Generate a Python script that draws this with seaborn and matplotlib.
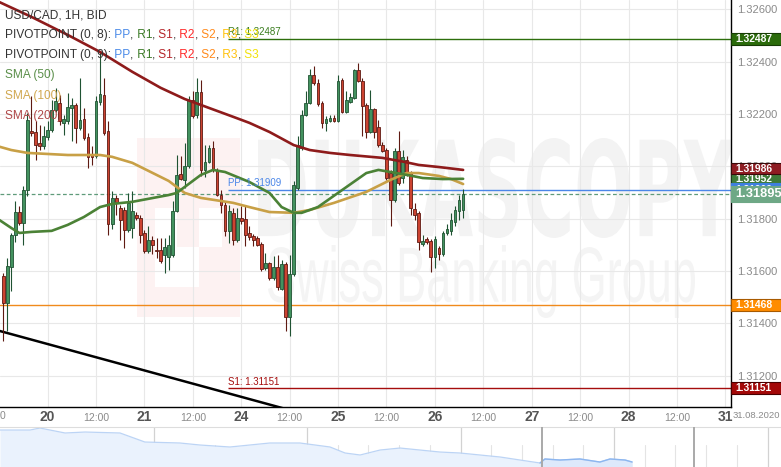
import matplotlib
matplotlib.use("Agg")
import numpy as np
import pandas as pd
import matplotlib.pyplot as plt
import seaborn as sns
from matplotlib.patches import Rectangle, PathPatch
from matplotlib.textpath import TextPath
from matplotlib.font_manager import FontProperties
from matplotlib.transforms import Affine2D, blended_transform_factory

# ---------------- data (USD/CAD, 1H candles) ----------------
# trading-hour index, 0 = 20 Aug 2020 00:00, 24 = 21 Aug, 48 = 24 Aug ...
hours = list(range(-11, 104))
opens = [1.31582, 1.31477, 1.31614, 1.31739, 1.31825, 1.31783, 1.31911, 1.32136, 1.32131, 1.32089,
         1.32077, 1.32111, 1.32140, 1.32216, 1.32242, 1.32166, 1.32172, 1.32223, 1.32236, 1.32146,
         1.32181, 1.32111, 1.32044, 1.32038, 1.32246, 1.32274, 1.32134, 1.31779, 1.31879, 1.31841,
         1.31834, 1.31758, 1.31764, 1.31815, 1.31802, 1.31745, 1.31675, 1.31719, 1.31681, 1.31679,
         1.31662, 1.31652, 1.31662, 1.31828, 1.31971, 1.31949, 1.32000, 1.32255, 1.32195, 1.32284,
         1.31987, 1.32017, 1.32070, 1.31987, 1.31892, 1.31853, 1.31752, 1.31822, 1.31719, 1.31802,
         1.31799, 1.31745, 1.31732, 1.31726, 1.31703, 1.31611, 1.31630, 1.31573, 1.31614, 1.31532,
         1.31627, 1.31423, 1.31588, 1.31917, 1.32070, 1.32195, 1.32242, 1.32348, 1.32319, 1.32242,
         1.32166, 1.32174, 1.32185, 1.32174, 1.32331, 1.32208, 1.32246, 1.32261, 1.32367, 1.32325,
         1.32233, 1.32131, 1.32219, 1.32149, 1.32083, 1.32064, 1.31974, 1.31872, 1.32057, 1.31955,
         1.32025, 1.31974, 1.31838, 1.31822, 1.31703, 1.31722, 1.31716, 1.31652, 1.31688, 1.31665,
         1.31745, 1.31752, 1.31786, 1.31828, 1.31834]
highs = [1.31592, 1.31649, 1.31745, 1.31866, 1.31847, 1.31925, 1.32204, 1.32268, 1.32172, 1.32159,
         1.32153, 1.32172, 1.32255, 1.32300, 1.32274, 1.32196, 1.32280, 1.32261, 1.32242, 1.32338,
         1.32223, 1.32127, 1.32077, 1.32268, 1.32440, 1.32338, 1.32172, 1.31906, 1.31890, 1.31852,
         1.31844, 1.31898, 1.31904, 1.31825, 1.31814, 1.31758, 1.31771, 1.31733, 1.31726, 1.31726,
         1.31726, 1.31737, 1.31866, 1.32044, 1.32038, 1.32089, 1.32268, 1.32287, 1.32338, 1.32331,
         1.32083, 1.32083, 1.32096, 1.31994, 1.31909, 1.31864, 1.31853, 1.31841, 1.31841, 1.31847,
         1.31847, 1.31771, 1.31741, 1.31733, 1.31711, 1.31668, 1.31634, 1.31656, 1.31662, 1.31642,
         1.31634, 1.31662, 1.31943, 1.32115, 1.32216, 1.32287, 1.32370, 1.32383, 1.32335, 1.32250,
         1.32191, 1.32196, 1.32196, 1.32350, 1.32338, 1.32287, 1.32280, 1.32370, 1.32395, 1.32338,
         1.32242, 1.32293, 1.32223, 1.32178, 1.32093, 1.32070, 1.31987, 1.32070, 1.32134, 1.32064,
         1.32040, 1.31982, 1.31860, 1.31829, 1.31739, 1.31730, 1.31722, 1.31733, 1.31695, 1.31754,
         1.31779, 1.31822, 1.31847, 1.31892, 1.31914]
lows = [1.31331, 1.31369, 1.31522, 1.31711, 1.31777, 1.31700, 1.31885, 1.32116, 1.32025, 1.32062,
        1.32066, 1.32101, 1.32131, 1.32208, 1.32159, 1.32121, 1.32162, 1.32096, 1.32089, 1.32139,
        1.32101, 1.31994, 1.32006, 1.32032, 1.32236, 1.32120, 1.31739, 1.31760, 1.31814, 1.31719,
        1.31688, 1.31749, 1.31726, 1.31795, 1.31707, 1.31668, 1.31668, 1.31665, 1.31649, 1.31630,
        1.31592, 1.31605, 1.31653, 1.31825, 1.31948, 1.31917, 1.31994, 1.32185, 1.32185, 1.31962,
        1.31959, 1.32013, 1.31978, 1.31887, 1.31822, 1.31732, 1.31707, 1.31700, 1.31712, 1.31779,
        1.31694, 1.31718, 1.31694, 1.31694, 1.31599, 1.31604, 1.31565, 1.31565, 1.31528, 1.31527,
        1.31369, 1.31350, 1.31581, 1.31909, 1.32062, 1.32192, 1.32238, 1.32311, 1.32231, 1.32146,
        1.32134, 1.32170, 1.32170, 1.32170, 1.32204, 1.32204, 1.32242, 1.32257, 1.32322, 1.32115,
        1.32108, 1.32127, 1.32108, 1.32074, 1.32055, 1.31948, 1.31771, 1.31864, 1.31929, 1.31936,
        1.31963, 1.31815, 1.31796, 1.31681, 1.31695, 1.31703, 1.31595, 1.31611, 1.31643, 1.31657,
        1.31737, 1.31739, 1.31771, 1.31796, 1.31802]
closes = [1.31477, 1.31618, 1.31739, 1.31825, 1.31783, 1.31911, 1.32178, 1.32127, 1.32083, 1.32077,
          1.32115, 1.32140, 1.32216, 1.32251, 1.32172, 1.32181, 1.32227, 1.32236, 1.32146, 1.32178,
          1.32108, 1.32035, 1.32036, 1.32249, 1.32277, 1.32127, 1.31779, 1.31879, 1.31860, 1.31796,
          1.31758, 1.31860, 1.31828, 1.31802, 1.31739, 1.31675, 1.31719, 1.31700, 1.31675, 1.31639,
          1.31690, 1.31700, 1.31828, 1.31968, 1.31953, 1.32000, 1.32255, 1.32191, 1.32284, 1.31987,
          1.32017, 1.32070, 1.31987, 1.31892, 1.31853, 1.31752, 1.31828, 1.31719, 1.31802, 1.31792,
          1.31739, 1.31729, 1.31719, 1.31700, 1.31609, 1.31630, 1.31573, 1.31614, 1.31537, 1.31627,
          1.31423, 1.31588, 1.31930, 1.32080, 1.32195, 1.32242, 1.32348, 1.32319, 1.32238, 1.32166,
          1.32181, 1.32185, 1.32174, 1.32327, 1.32208, 1.32255, 1.32264, 1.32367, 1.32325, 1.32229,
          1.32131, 1.32219, 1.32131, 1.32080, 1.32060, 1.31955, 1.31872, 1.32057, 1.31936, 1.32035,
          1.31968, 1.31841, 1.31815, 1.31711, 1.31716, 1.31709, 1.31652, 1.31723, 1.31665, 1.31745,
          1.31761, 1.31796, 1.31834, 1.31872, 1.31895]

# moving averages
sma200_h = [-12, -4, 5, 13, 21, 28, 34, 40, 46, 50, 55, 61, 65, 70, 75, 83, 88, 92, 97, 103]
sma200_v = [1.32628, 1.32571, 1.32502, 1.32437, 1.32361, 1.32300, 1.32257, 1.32223, 1.32189, 1.32166,
            1.32131, 1.32081, 1.32062, 1.32051, 1.32043, 1.32032, 1.32018, 1.32005, 1.31997, 1.31986]
sma100_h = [-12, -9, -5, 5, 13, 16, 21, 30, 34, 38, 46, 50, 55, 61, 65, 71, 79, 85, 89, 92, 97, 100, 103]
sma100_v = [1.32075, 1.32062, 1.32051, 1.32043, 1.32043, 1.32036, 1.32013, 1.31944, 1.31898, 1.31879,
            1.31860, 1.31844, 1.31825, 1.31822, 1.31833, 1.31860, 1.31902, 1.31948, 1.31974, 1.31974,
            1.31963, 1.31951, 1.31932]
sma50_h = [-12, -9, -7, -4, 1, 5, 9, 13, 16, 21, 30, 32, 34, 38, 41, 44, 50, 55, 58, 61, 63, 67, 73,
           79, 82, 85, 89, 93, 98, 103]
sma50_v = [1.31795, 1.31764, 1.31745, 1.31749, 1.31753, 1.31776, 1.31806, 1.31844, 1.31856, 1.31864,
           1.31890, 1.31898, 1.31921, 1.31967, 1.31986, 1.31978, 1.31940, 1.31898, 1.31844, 1.31822,
           1.31822, 1.31844, 1.31909, 1.31974, 1.31986, 1.31978, 1.31967, 1.31955, 1.31951, 1.31952]

# pivot levels
r1_level, pp_level, s1_level = 1.32487, 1.31909, 1.31151
s2_prev_level = 1.31468
last_price = 1.31895
sma200_last, sma50_last = 1.31986, 1.31952
pivot_start_hour = 44.7

# trend line (two anchor points: hour, price)
trend_h = [-11.8, 62.6]
trend_v = [1.31370, 1.31057]

# axis ticks
day_ticks = [0, 24, 48, 72, 96, 120, 144, 168]
day_labels = ['20', '21', '24', '25', '26', '27', '28', '31']
half_ticks = [12, 36, 60, 84, 108, 132, 156]
price_ticks = [1.312, 1.314, 1.316, 1.318, 1.320, 1.322, 1.324, 1.326]

# navigator overview series (trading days, price)
nav_days = [0, 0.98, 1.30, 2.12, 2.77, 3.91, 4.72, 5.86, 6.51, 7.49, 8.79, 9.77, 10.75, 11.24, 11.73,
            12.38, 13.03, 13.68, 14.33, 14.98, 16.29, 16.94, 17.59, 17.75, 18.24, 18.89, 19.54, 19.87,
            20.36, 20.59]
nav_vals = [1.36947, 1.36947, 1.36982, 1.36895, 1.36912, 1.36895, 1.36737, 1.36720, 1.36685, 1.36650,
            1.36720, 1.36720, 1.36650, 1.36545, 1.36510, 1.36597, 1.36632, 1.36597, 1.36562, 1.36545,
            1.36475, 1.36422, 1.36370, 1.36440, 1.36422, 1.36440, 1.36387, 1.36440, 1.36422, 1.36387]

# ---------------- figure ----------------
sns.set_theme(style="white")
plt.rcParams['font.family'] = ['Liberation Sans', 'DejaVu Sans']

W, H = 781, 467
AX_R, AX_B = 731, 407
fig = plt.figure(figsize=(W / 100, H / 100), dpi=100)
fig.patch.set_facecolor('white')
ax = fig.add_axes([0, 1 - AX_B / H, AX_R / W, AX_B / H])
ax.set_facecolor('white')
ax.set_axisbelow(True)

# watermark
def fit_text(s, prop, x0, x1, ytop, ybot, color):
    tp = TextPath((0, 0), s, size=100, prop=prop)
    ext = tp.get_extents()
    tr = (Affine2D().translate(-ext.x0, -ext.y0)
          .scale((x1 - x0) / ext.width, (ybot - ytop) / ext.height)
          .translate(x0, H - ybot))
    p = PathPatch(tp, transform=tr, facecolor=color, edgecolor='none', zorder=0.3)
    ax.add_artist(p)

def ax_rect(x0, y0, x1, y1, color, z):
    ax.add_patch(Rectangle((x0 / AX_R, 1 - y1 / AX_B), (x1 - x0) / AX_R, (y1 - y0) / AX_B,
                           transform=ax.transAxes, facecolor=color, edgecolor='none', zorder=z))

ax_rect(137, 138, 240, 317, '#fdf2f2', 0.2)
ax_rect(155, 208, 177, 287, 'white', 0.25)
ax_rect(177, 247, 199, 287, 'white', 0.25)
ax_rect(199, 208, 222, 247, 'white', 0.25)
fit_text('DUKASCOPY', FontProperties(family='DejaVu Sans', weight='bold'), 258, 735, 138, 238, '#f3f3f3')
fit_text('Swiss Banking Group', FontProperties(family='Liberation Sans'), 268, 695, 245, 318, '#f4f4f4')

# pivot / level lines
ax.hlines(r1_level, pivot_start_hour, 170, color='#2d6e0c', lw=1.0, zorder=2)
ax.hlines(pp_level, pivot_start_hour, 170, color='#4a86e8', lw=1.0, zorder=2)
ax.hlines(s1_level, pivot_start_hour, 170, color='#a50d0d', lw=1.0, zorder=2)
ax.axhline(s2_prev_level, color='#f08a1c', lw=1.0, zorder=2)
ax.axhline(last_price, color='#5f9b7a', lw=0.9, ls=(0, (3, 2)), zorder=2.5)
for lvl, name, col in [(r1_level, 'R1', '#3a7d1f'), (pp_level, 'PP', '#4a86e8'), (s1_level, 'S1', '#a50d0d')]:
    ax.annotate(f'{name}: {lvl:.5f}', (pivot_start_hour, lvl), xytext=(0, 1.2), textcoords='offset points',
                fontsize=7, color=col, ha='left', va='bottom', zorder=6)

sns.lineplot(x=trend_h, y=trend_v, ax=ax, color='black', lw=1.8, zorder=2.6)

# candles
df = pd.DataFrame(dict(hour=hours, open=opens, high=highs, low=lows, close=closes))
up = (df['close'] >= df['open']).values
body_lo = np.minimum(df['open'], df['close'])
body_h = np.maximum(np.abs(df['close'] - df['open']), 0.000028)
face = np.where(up, '#43925f', '#cc4331')
edge = np.where(up, '#1f5232', '#5e1a12')
ax.vlines(df['hour'], df['low'], df['high'], colors=edge, lw=0.8, zorder=3)
ax.bar(df['hour'], body_h, bottom=body_lo, width=0.68, color=face, edgecolor=edge, linewidth=0.6, zorder=3.1)

# moving averages
for h, v, c in [(sma200_h, sma200_v, '#8e1b1b'), (sma100_h, sma100_v, '#c8a046'), (sma50_h, sma50_v, '#4b8236')]:
    sns.lineplot(x=h, y=v, ax=ax, color=c, lw=1.9, zorder=4, solid_joinstyle='round', solid_capstyle='round')

# axes styling
ax.set_xlim(-11.8, 169.4)
ax.set_ylim(1.310796, 1.326356)
ax.set_xlabel('')
ax.set_ylabel('')
ax.set_xticks(day_ticks)
ax.set_xticklabels(day_labels)
ax.set_xticks(half_ticks, minor=True)
ax.set_xticklabels(['12:00'] * len(half_ticks), minor=True)
ax.tick_params(axis='x', which='major', length=0, pad=2.2, labelsize=10, labelcolor='#555555')
ax.tick_params(axis='x', which='minor', length=0, pad=4.0, labelsize=7.5, labelcolor='#8a8a8a')
for t in ax.get_xticklabels():
    t.set_fontweight('bold')
ax.yaxis.tick_right()
ax.set_yticks(price_ticks)
ax.set_yticklabels([f'{p:.5f}' for p in price_ticks])
ax.tick_params(axis='y', length=0, pad=4.5, labelsize=8, labelcolor='#8a8a8a')
ax.grid(True, which='both', axis='x', color='#e8e8e8', lw=0.8)
ax.grid(True, which='major', axis='y', color='#e8e8e8', lw=0.8)
for s in ['top', 'left']:
    ax.spines[s].set_visible(False)
for s in ['right', 'bottom']:
    ax.spines[s].set_color('black')
    ax.spines[s].set_linewidth(1.0)

ax.text(732.5 / AX_R, 1 - 416 / AX_B, '31.08.2020', transform=ax.transAxes, fontsize=6.8,
        color='#8a8a8a', ha='left', va='center', clip_on=False)
ax.text(0.0, 1 - 416 / AX_B, '0', transform=ax.transAxes, fontsize=7.5,
        color='#8a8a8a', ha='left', va='center', clip_on=False)

# right-hand price boxes
trans = blended_transform_factory(ax.transAxes, ax.transData)
def price_box(price, fc, ec, label, hpx, fs, z):
    h = hpx / 26150
    ax.add_patch(Rectangle((1.0, price - h / 2), 0.0690, h, transform=trans, facecolor=fc,
                           edgecolor=ec, lw=0.8, clip_on=False, zorder=z))
    ax.text(1.0055, price, label, transform=trans, color='white', fontsize=fs, fontweight='bold',
            ha='left', va='center', clip_on=False, zorder=z + 0.05)

price_box(r1_level, '#2b6b0b', '#173c05', f'{r1_level:.5f}', 11.5, 7.4, 6.0)
price_box(s2_prev_level, '#ff8c00', '#a85a00', f'{s2_prev_level:.5f}', 12, 7.4, 6.0)
price_box(s1_level, '#a30808', '#4a0000', f'{s1_level:.5f}', 12, 7.4, 6.0)
price_box(sma50_last, '#3e7b39', '#1e3d1c', f'{sma50_last:.5f}', 13, 7.4, 6.2)
price_box(sma200_last + 0.00004, '#8e1c22', '#3a0a0a', f'{sma200_last:.5f}', 11, 7.4, 6.4)
price_box(pp_level, '#3f7fe0', '#3f7fe0', f'{pp_level:.5f}', 14, 7.4, 6.6)
price_box(last_price - 0.00001, '#6ea886', '#6ea886', f'{last_price:.5f}', 16, 9.3, 6.8)

# legend block (top-left)
def chain(parts, yc, fs=8.6):
    t = ax.text(5 / AX_R, 1 - yc / AX_B, parts[0][0], color=parts[0][1], transform=ax.transAxes,
                fontsize=fs, ha='left', va='center', zorder=20)
    for s, c in parts[1:]:
        t = ax.annotate(s, xy=(1, 0), xycoords=t, xytext=(0, 0), textcoords='offset points',
                        color=c, fontsize=fs, ha='left', va='bottom', zorder=20)

grey = '#333333'
piv_cols = [('PP', '#4a8ae8'), ('R1', '#3a7a26'), ('S1', '#b5252a'), ('R2', '#ff2a2a'),
            ('S2', '#ff8a1c'), ('R3', '#ffc20e'), ('S3', '#f2e20a')]
chain([('USD/CAD, 1H, BID', grey)], 15)
for yc, n in [(35, 8), (55, 9)]:
    parts = [(f'PIVOTPOINT (0, {n}):', grey)]
    for i, (nm, c) in enumerate(piv_cols):
        parts.append((' ' + nm, c))
        if i < len(piv_cols) - 1:
            parts.append((',', grey))
    chain(parts, yc)
chain([('SMA (50)', '#5b8f4a')], 75)
chain([('SMA (100)', '#d1a850')], 96)
chain([('SMA (200)', '#b04848')], 116)

# navigator
nav = fig.add_axes([0, 0, 1, 40 / H])
nav.set_facecolor('white')
nd = np.array(nav_days)
nv = np.array(nav_vals)
for d in range(1, 26):
    if d % 5:
        nav.axvline(d, ymin=0, ymax=0.55, color='#e4e4e4', lw=0.8, zorder=0.5)
    else:
        nav.axvline(d, color='#d2d2d2', lw=0.9, zorder=0.5)
nav.fill_between(nd, nv, 1.3630, color='#eaf2fd', lw=0, zorder=1)
sns.lineplot(x=nd, y=nv, ax=nav, color='#bcd4f5', lw=0.9, zorder=2)
sel = nd >= 17.59
nav.fill_between(nd[sel], nv[sel], 1.3630, color='#dde9fb', lw=0, zorder=1.5)
sns.lineplot(x=nd[sel], y=nv[sel], ax=nav, color='#8db6ef', lw=1.0, zorder=2.5)
nav.axvline(17.65, color='#a9a9a9', lw=1.4, zorder=3)
nav.axvline(22.6, color='#a9a9a9', lw=1.4, zorder=3)
nav.set_xlim(0, W / 30.7)
nav.set_ylim(1.3630, 1.3700)
nav.set_xticks([])
nav.set_yticks([])
nav.set_xlabel('')
nav.set_ylabel('')
for s in ['left', 'right', 'bottom']:
    nav.spines[s].set_visible(False)
nav.spines['top'].set_color('#dddddd')
nav.spines['top'].set_linewidth(0.8)

fig.savefig('out.png', dpi=100, facecolor='white')
